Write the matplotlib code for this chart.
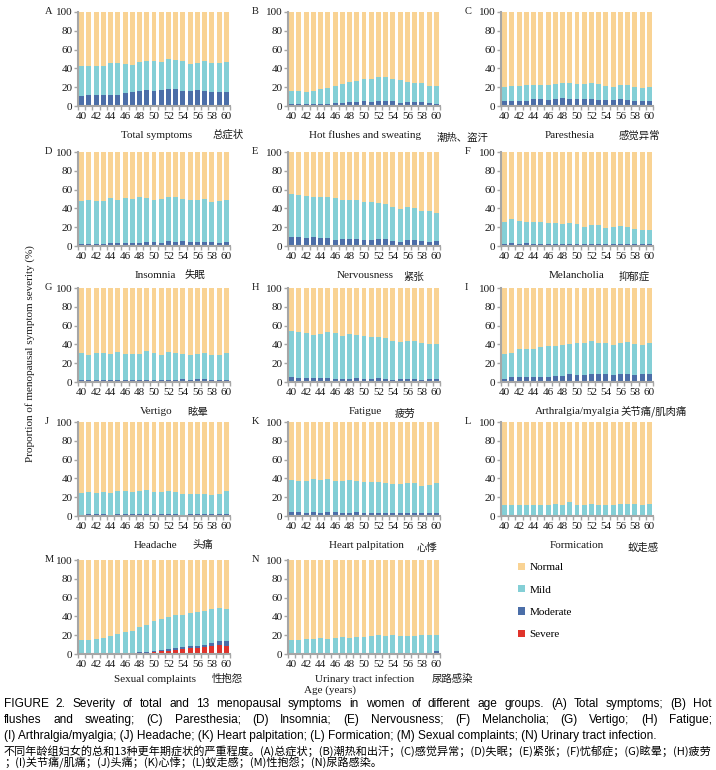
import numpy as np
import matplotlib
matplotlib.use("Agg")
import matplotlib.pyplot as plt
from matplotlib.patches import Patch

W, H = 716, 770
SERIF = ["Liberation Serif", "DejaVu Serif"]
CJK = ["Noto Sans CJK SC", "DejaVu Sans"]
SANS = ["Liberation Sans", "DejaVu Sans"]

# Colours
C_NORMAL = "#F9D394"
C_MILD = "#84CFD6"
C_MODERATE = "#4B6EA8"
C_SEVERE = "#E0332B"
C_AXIS = "#A6A6A6"

ages = list(range(40, 61))
tick_labels = [str(a) for a in range(40, 61, 2)]

# Segment values (%) per panel: severe, moderate, mild; normal is the rest to 100
severe_A = [0.3, 0.3, 0.3, 0.3, 0.3, 0.5, 0.5, 0.8, 0.8, 0.8, 0.8, 0.8, 1, 1, 1, 1, 1.2, 1, 1, 1, 1]
moderate_A = [10.2, 11.2, 11.2, 11.2, 11.2, 11.0, 13.0, 13.7, 15.2, 16.2, 15.2, 16.2, 17.5, 17.0, 15.0, 15.0, 16.3, 15.0, 14.0, 14.0, 13.5]
mild_A = [32.5, 31, 31, 31, 34, 34, 31, 29.5, 30.5, 30.5, 31.5, 30, 31, 30.5, 31.5, 28.5, 28, 32, 30.5, 30.5, 32]

severe_B = [0] * 21
moderate_B = [2, 2, 2, 2, 2, 2, 3, 3, 4, 4, 5, 4, 5, 5, 5, 3.5, 4, 4, 4, 3, 2.5]
mild_B = [14, 14, 13, 14, 16, 17, 18, 20, 21.5, 22.5, 23.5, 24.5, 26, 25.5, 23.5, 24, 21.5, 20.5, 20.5, 18, 18.5]

severe_C = [0] * 21
moderate_C = [5, 5.5, 5, 5, 7, 7, 6, 7, 8, 7, 7, 7, 7, 6, 6, 6, 7, 6, 5.5, 5, 5.5]
mild_C = [15, 15.5, 16, 17, 15, 15, 16, 16, 17, 17, 16, 16, 18, 17, 15, 14.5, 15, 16, 15, 14, 14.5]

severe_D = [0] * 21
moderate_D = [2, 2, 2, 2, 3, 3, 3, 3, 3.5, 4, 4.5, 3, 5, 4, 5, 4, 4, 4, 4, 3.5, 4]
mild_D = [46, 47, 46, 46, 48, 46, 48, 46.5, 48.5, 47, 44.5, 47, 47, 48, 45, 45, 45, 46, 43, 44.5, 45]

severe_E = [0.5, 0.5, 0.5, 0, 0, 0, 0, 0, 0, 0, 0, 0, 0, 0, 0, 0, 0.3, 0, 0, 0, 0]
moderate_E = [9.5, 9.5, 8.5, 9.5, 8, 8, 6.5, 7, 7, 7.5, 6.5, 6.5, 7.5, 7, 5.5, 4.5, 6.2, 6.5, 5.5, 4.5, 5.5]
mild_E = [45.5, 44.5, 44, 42.5, 44, 44, 44.5, 42, 42, 41.5, 40.5, 40.5, 38.5, 38, 36, 35, 35, 34, 31.5, 32.5, 29.5]

severe_F = [0] * 21
moderate_F = [2.5, 3, 2, 3.5, 2.5, 2, 2, 2.5, 2, 2.5, 2, 2, 2.5, 2.5, 2, 2, 2.5, 2.5, 2, 2, 2]
mild_F = [23.5, 26, 25, 22.5, 23.5, 23.5, 22.5, 22, 21.5, 22, 21, 18.5, 20, 19.5, 17.5, 18, 18.5, 18, 16.5, 15.5, 15.5]

severe_G = [0] * 21
moderate_G = [2, 2, 2, 2, 2, 2, 2, 2, 2, 2, 2, 2, 2, 2, 3, 2, 3.5, 3, 2, 2, 2]
mild_G = [28.5, 27, 29, 29, 28, 30, 28, 28, 28, 31, 29, 27, 29.5, 29, 27, 27, 26.5, 28, 27, 27, 29]

severe_H = [0] * 21
moderate_H = [5, 4, 4, 4, 4, 4, 3.5, 3.5, 3.5, 4, 3, 3.5, 4, 3.5, 2.5, 3, 3.5, 3, 2.5, 3, 3]
mild_H = [49, 49, 48.5, 46, 47.5, 49.5, 48.5, 45.5, 47.5, 46, 46, 44.5, 44, 43, 41.5, 40, 40.5, 40.5, 39.5, 37.5, 37.5]

severe_I = [0] * 21
moderate_I = [3, 5, 5, 5, 5, 5, 5, 6, 6, 8, 7, 7, 9, 8.5, 8, 7.5, 8.5, 8.5, 7.5, 8, 8.5]
mild_I = [27, 26, 30, 30, 30, 32, 33.5, 32.5, 33.5, 32.5, 34, 34, 34.5, 33, 33.5, 32, 33.5, 34.5, 33, 31.5, 33]

severe_J = [0] * 21
moderate_J = [1.5, 2, 2, 2, 1.5, 2, 2, 2, 2, 2, 2, 2, 2, 2, 1.5, 2, 2, 2.5, 2, 2, 2.5]
mild_J = [23.5, 23.5, 22.5, 23.5, 23.5, 24.5, 24.5, 23.5, 24.5, 25.5, 23.5, 24, 24.5, 24, 22, 21.5, 21.5, 21, 20, 21.5, 24]

severe_K = [0] * 21
moderate_K = [4, 4, 3, 4, 3.5, 4, 4, 3.5, 3.5, 4, 3, 3, 3.5, 3, 3, 3, 3.5, 3.5, 3, 3, 3]
mild_K = [34.5, 33.5, 34.5, 35.5, 35, 35, 33.5, 34, 34.5, 33.5, 33.5, 33.5, 33, 32.5, 31, 31, 31.5, 31.5, 29, 30, 32]

severe_L = [0] * 21
moderate_L = [0.5] * 21
mild_L = [11, 11, 11.5, 11, 11, 11, 11, 12, 11, 14, 11.5, 11.5, 12, 11.5, 11, 11, 12.5, 12, 12, 11, 12]

severe_M = [0, 0, 0, 0, 0, 0, 0.3, 0.5, 1, 1.5, 2, 3, 3.5, 4.5, 5, 6, 6.5, 7, 9, 10, 9]
moderate_M = [0, 0, 0, 0, 0, 0.3, 0.5, 0.5, 1, 1, 1, 1.5, 1.5, 2, 2, 2, 2.5, 3, 3, 4, 4.5]
mild_M = [15, 15, 16, 17, 19, 20.7, 22.2, 24, 27, 28.5, 32, 32.5, 34, 34.5, 35, 36, 36, 36, 36, 35, 34.5]

severe_N = [0] * 21
moderate_N = [1, 1, 1, 1, 1, 1, 1, 1, 1, 1, 1, 1, 1, 1, 1, 1, 1, 1, 1.5, 1.5, 3]
mild_N = [14, 14, 15, 15, 16, 15, 16, 17, 16, 17, 17, 18, 19, 18, 19, 18, 18, 18, 18.5, 18.5, 17]

panels = [
    ("A", "Total symptoms", "总症状", severe_A, moderate_A, mild_A),
    ("B", "Hot flushes and sweating", "潮热、盗汗", severe_B, moderate_B, mild_B),
    ("C", "Paresthesia", "感觉异常", severe_C, moderate_C, mild_C),
    ("D", "Insomnia", "失眠", severe_D, moderate_D, mild_D),
    ("E", "Nervousness", "紧张", severe_E, moderate_E, mild_E),
    ("F", "Melancholia", "抑郁症", severe_F, moderate_F, mild_F),
    ("G", "Vertigo", "眩晕", severe_G, moderate_G, mild_G),
    ("H", "Fatigue", "疲劳", severe_H, moderate_H, mild_H),
    ("I", "Arthralgia/myalgia", "关节痛/肌肉痛", severe_I, moderate_I, mild_I),
    ("J", "Headache", "头痛", severe_J, moderate_J, mild_J),
    ("K", "Heart palpitation", "心悸", severe_K, moderate_K, mild_K),
    ("L", "Formication", "蚁走感", severe_L, moderate_L, mild_L),
    ("M", "Sexual complaints", "性抱怨", severe_M, moderate_M, mild_M),
    ("N", "Urinary tract infection", "尿路感染", severe_N, moderate_N, mild_N),
]

# Layout in pixels
col_left = [78, 288, 501]
col_width = 152
row_top = [12, 152, 288, 422, 560]
row_height = 94
label_gap = [29, 29, 29, 29, 25]
letter_x = [45, 252, 465]
# (english centre x, chinese left x)
label_pos = [
    (157, 213), (365, 437), (570, 619),
    (155, 185), (365, 403), (577, 619),
    (156, 187), (365, 395), (577, 620),
    (155, 192), (366, 417), (577, 628),
    (155, 212), (365, 432),
]
cn_dy = [0, 3, 1, 0, 2, 2, 1, 3, 0, 0, 3, 3, 0, 0]

fig = plt.figure(figsize=(W / 100, H / 100), dpi=100)


def fx(x):
    return x / W


def fy(y):
    return 1 - y / H


x = np.arange(len(ages))
for i, (letter, name_en, name_cn, sev, mod, mil) in enumerate(panels):
    r, c = divmod(i, 3)
    left, top = col_left[c], row_top[r]
    ax = fig.add_axes([fx(left), fy(top + row_height), col_width / W, row_height / H])
    sev = np.array(sev, dtype=float)
    mod = np.array(mod, dtype=float)
    mil = np.array(mil, dtype=float)
    nor = 100 - sev - mod - mil
    bw = 0.68
    ax.bar(x, sev, bw, color=C_SEVERE, linewidth=0)
    ax.bar(x, mod, bw, bottom=sev, color=C_MODERATE, linewidth=0)
    ax.bar(x, mil, bw, bottom=sev + mod, color=C_MILD, linewidth=0)
    ax.bar(x, nor, bw, bottom=sev + mod + mil, color=C_NORMAL, linewidth=0)
    ax.set_xlim(-0.5, len(ages) - 0.5)
    ax.set_ylim(0, 100)
    ax.set_yticks(range(0, 101, 20))
    ax.set_xticks(np.arange(0, len(ages), 2))
    ax.set_xticklabels(tick_labels)
    ax.set_xticks(np.arange(-0.5, len(ages), 1), minor=True)
    ax.tick_params(axis="x", which="major", length=0, pad=4)
    ax.tick_params(axis="x", which="minor", length=3, color=C_AXIS, width=1)
    ax.tick_params(axis="y", length=3, color=C_AXIS, width=1, pad=1)
    for lab in ax.get_xticklabels() + ax.get_yticklabels():
        lab.set_family(SERIF)
        lab.set_fontsize(8)
        lab.set_color("#1a1a1a")
    for s in ["top", "right"]:
        ax.spines[s].set_visible(False)
    for s in ["left", "bottom"]:
        ax.spines[s].set_color(C_AXIS)
        ax.spines[s].set_linewidth(1.5)

    fig.text(fx(letter_x[c]), fy(top), letter, family=SERIF, fontsize=7.5,
             ha="left", va="center", color="#1a1a1a")
    ly = top + row_height + label_gap[r]
    ex, cx = label_pos[i]
    fig.text(fx(ex), fy(ly), name_en, family=SERIF, fontsize=8,
             ha="center", va="center", color="#1a1a1a")
    fig.text(fx(cx), fy(ly + cn_dy[i]), name_cn, family=CJK, fontsize=7.5,
             ha="left", va="center", color="#1a1a1a")

fig.text(fx(30), fy(354), "Proportion of menopausal symptom severity (%)",
         family=SERIF, fontsize=8, rotation=90, ha="center", va="center", color="#1a1a1a")
fig.text(fx(330), fy(690), "Age (years)", family=SERIF, fontsize=8,
         ha="center", va="center", color="#1a1a1a")

# Legend in the empty slot
handles = [Patch(facecolor=C_NORMAL), Patch(facecolor=C_MILD),
           Patch(facecolor=C_MODERATE), Patch(facecolor=C_SEVERE)]
fig.legend(handles, ["Normal", "Mild", "Moderate", "Severe"],
           loc="upper left", bbox_to_anchor=(fx(508), fy(553)), frameon=False,
           prop={"family": SERIF, "size": 8}, labelspacing=1.15,
           handlelength=0.6, handleheight=0.6, handletextpad=0.45)

# Caption
renderer = fig.canvas.get_renderer()


def justify(text, y, x0, x1, size, family):
    words = text.split(" ")
    widths = []
    for w in words:
        t = fig.text(0, 0, w, fontsize=size, family=family)
        widths.append(t.get_window_extent(renderer).width)
        t.remove()
    gap = (x1 - x0 - sum(widths)) / (len(words) - 1)
    xx = x0
    for w, wd in zip(words, widths):
        fig.text(fx(xx), fy(y), w, fontsize=size, family=family, ha="left", va="center")
        xx += wd + gap


cap1 = ("FIGURE 2. Severity of total and 13 menopausal symptoms in women of different age "
        "groups. (A) Total symptoms; (B) Hot")
cap2 = ("flushes and sweating; (C) Paresthesia; (D) Insomnia; (E) Nervousness; "
        "(F) Melancholia; (G) Vertigo; (H) Fatigue;")
cap3 = ("(I) Arthralgia/myalgia; (J) Headache; (K) Heart palpitation; (L) Formication; "
        "(M) Sexual complaints; (N) Urinary tract infection.")
cap_cn1 = ("不同年龄组妇女的总和13种更年期症状的严重程度。(A)总症状；(B)潮热和出汗；"
           "(C)感觉异常；(D)失眠；(E)紧张；(F)忧郁症；(G)眩晕；(H)疲劳")
cap_cn2 = "；(I)关节痛/肌痛；(J)头痛；(K)心悸；(L)蚁走感；(M)性抱怨；(N)尿路感染。"

justify(cap1, 704, 4, 712, 8.6, SANS)
justify(cap2, 720, 4, 712, 8.6, SANS)
fig.text(fx(4), fy(736), cap3, fontsize=8.6, family=SANS, ha="left", va="center")

t = fig.text(0, 0, cap_cn1, fontsize=7, family=CJK)
cn_size = 7 * 708 / t.get_window_extent(renderer).width
t.remove()
fig.text(fx(4), fy(751), cap_cn1, fontsize=cn_size, family=CJK, ha="left", va="center")
fig.text(fx(4), fy(763), cap_cn2, fontsize=cn_size, family=CJK, ha="left", va="center")

fig.savefig("out.png", dpi=100)
